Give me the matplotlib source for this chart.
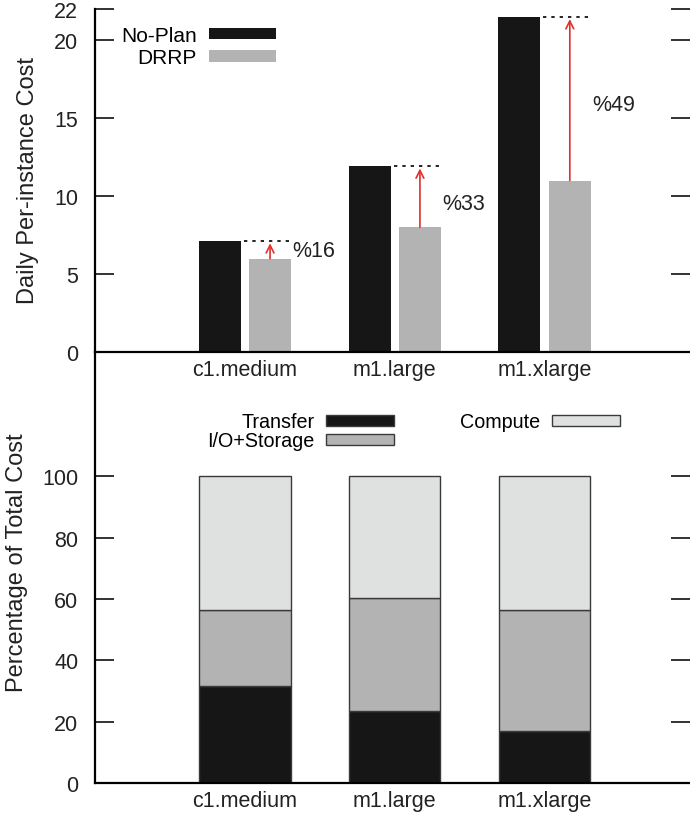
import numpy as np
import matplotlib
matplotlib.use('Agg')
import matplotlib.pyplot as plt

plt.rcParams['font.family'] = ['Liberation Sans', 'DejaVu Sans']

# data
instances = ['c1.medium', 'm1.large', 'm1.xlarge']
noplan_cost = [7.12, 11.92, 21.5]
drrp_cost = [5.98, 8.0, 11.0]
saving_labels = ['%16', '%33', '%49']
saving_label_y = [6.5, 9.55, 15.9]

transfer_pct = [31.5, 23.4, 17.0]
io_pct = [25.0, 36.8, 39.5]
compute_pct = [43.5, 39.8, 43.5]

BLACK = '#161616'
GRAY = '#b3b3b3'
LIGHT = '#dfe0e0'
FS = 15.5
LFS = 17
LEGFS = 14.2

fig = plt.figure(figsize=(6.9, 8.2), dpi=100)
x = np.arange(1, len(instances) + 1)

#%% top panel: daily per-instance cost
ax1 = fig.add_axes([95/690, 1 - 353/820, 595/690, 343/820])
bw = 0.28
off = 0.168
ax1.bar(x - off, noplan_cost, bw, color=BLACK, label='No-Plan', zorder=2)
ax1.bar(x + off, drrp_cost, bw, color=GRAY, label='DRRP', zorder=2)
for i in range(len(x)):
    ax1.plot([x[i] - off + bw/2 + 0.02, x[i] + off + bw/2], [noplan_cost[i]] * 2,
             color='black', ls=(0, (2, 3)), lw=1.2, zorder=3)
    ax1.annotate('', xy=(x[i] + off, noplan_cost[i] - 0.15), xytext=(x[i] + off, drrp_cost[i]),
                 arrowprops=dict(arrowstyle='->', color='#e0302a', lw=1.2,
                                 shrinkA=0, shrinkB=0, mutation_scale=14), zorder=4)
    ax1.text(x[i] + off + bw/2 + 0.01, saving_label_y[i], saving_labels[i],
             fontsize=FS, va='center', ha='left', color='#222222')
ax1.set_xlim(0, 3.97)
ax1.set_ylim(0, 22)
ax1.set_yticks([0, 5, 10, 15, 20, 22])
ax1.set_xticks(x)
ax1.set_xticklabels(instances)
ax1.tick_params(axis='x', length=0, pad=5, labelsize=FS, colors='#222222')
ax1.tick_params(axis='y', direction='in', length=14, width=1.3, left=True, right=True,
                labelsize=FS, pad=12, colors='#222222')
for s in ['top', 'right']:
    ax1.spines[s].set_visible(False)
ax1.spines['left'].set_linewidth(1.6)
ax1.spines['bottom'].set_linewidth(1.6)
leg1 = ax1.legend(loc='upper left', bbox_to_anchor=(0.03, 0.975), frameon=False,
                  fontsize=LEGFS + 0.8, markerfirst=False, handlelength=3.2, handleheight=0.5,
                  labelspacing=0.15, handletextpad=0.6, borderaxespad=0)
for t in leg1.get_texts():
    t.set_ha('right')
fig.text(28/690, 1 - 181/820, 'Daily Per-instance Cost', rotation=90,
         ha='center', va='center', fontsize=LFS, color='#222222')

#%% bottom panel: cost breakdown
ax2 = fig.add_axes([95/690, 1 - 784/820, 595/690, 431/820])
ax2.patch.set_alpha(0)
bw2 = 0.61
bottom_io = np.array(transfer_pct)
bottom_cp = bottom_io + np.array(io_pct)
ax2.bar(x, transfer_pct, bw2, color=BLACK, edgecolor='#3a3a3a', lw=1, label='Transfer')
ax2.bar(x, io_pct, bw2, bottom=bottom_io, color=GRAY, edgecolor='#3a3a3a', lw=1, label='I/O+Storage')
ax2.bar(x, compute_pct, bw2, bottom=bottom_cp, color=LIGHT, edgecolor='#3a3a3a', lw=1, label='Compute')
ax2.set_xlim(0, 3.97)
ax2.set_ylim(0, 140.5)
ax2.set_yticks([0, 20, 40, 60, 80, 100])
ax2.set_xticks(x)
ax2.set_xticklabels(instances)
ax2.tick_params(axis='x', length=0, pad=5, labelsize=FS, colors='#222222')
ax2.tick_params(axis='y', direction='in', length=14, width=1.3, left=True, right=True,
                labelsize=FS, pad=12, colors='#222222')
for s in ['top', 'right']:
    ax2.spines[s].set_visible(False)
ax2.spines['left'].set_linewidth(1.6)
ax2.spines['bottom'].set_linewidth(1.6)
h, l = ax2.get_legend_handles_labels()
leg2 = ax2.legend(h[:2], l[:2], loc='upper left', bbox_to_anchor=(0.175, 0.878), frameon=False,
                  fontsize=LEGFS, markerfirst=False, handlelength=3.45, handleheight=0.45,
                  labelspacing=0.0, handletextpad=0.6, borderaxespad=0)
for t in leg2.get_texts():
    t.set_ha('right')
ax2.add_artist(leg2)
ax2.legend(h[2:], l[2:], loc='upper left', bbox_to_anchor=(0.6, 0.878), frameon=False,
           fontsize=LEGFS, markerfirst=False, handlelength=3.45, handleheight=0.45,
           handletextpad=0.6, borderaxespad=0)
fig.text(17/690, 1 - 563/820, 'Percentage of Total Cost', rotation=90,
         ha='center', va='center', fontsize=LFS, color='#222222')

fig.savefig('out.png', dpi=100)
